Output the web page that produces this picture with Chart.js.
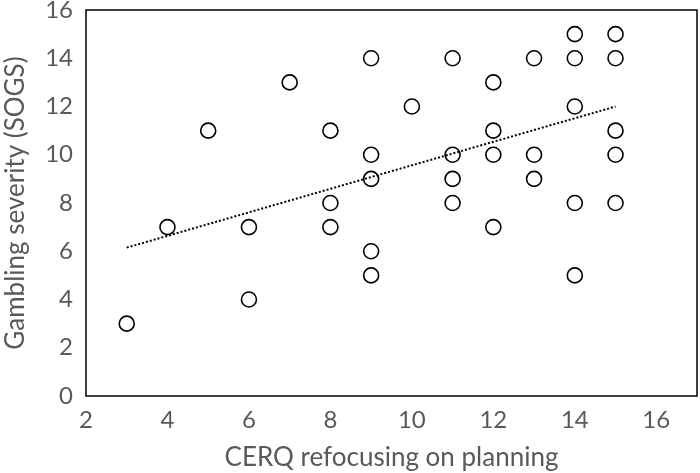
<!DOCTYPE html>
<html>
<head>
<meta charset="utf-8">
<script src="https://cdn.jsdelivr.net/npm/chart.js@4/dist/chart.umd.min.js"></script>
<style>
  html, body { margin: 0; padding: 0; background: #fff; overflow: hidden; }
  #wrap { width: 700px; height: 473px; }
  canvas { display: block; }
</style>
</head>
<body>
<div id="wrap"><canvas id="graficoSogs"></canvas></div>
<script>
// dados
const cerqX = [3, 4, 5, 6, 6, 7, 8, 8, 8, 9, 9, 9, 9, 9, 10, 11, 11, 11, 11, 12, 12, 12, 12, 13, 13, 13, 14, 14, 14, 14, 14, 15, 15, 15, 15, 15];
const sogsY = [3, 7, 11, 7, 4, 13, 11, 8, 7, 14, 10, 9, 6, 5, 12, 14, 10, 9, 8, 13, 11, 10, 7, 14, 10, 9, 15, 14, 12, 8, 5, 15, 14, 11, 10, 8];
const tendenciaX = [3, 15];
const tendenciaY = [6.15, 12.0];

const corTexto = '#595959';
const fonte = 'Lato, "Open Sans", sans-serif';

// moldura em volta da área do gráfico
const moldura = {
    id: 'moldura',
    afterDraw(chart) {
        const { ctx, chartArea } = chart;
        ctx.save();
        ctx.strokeStyle = '#000';
        ctx.lineWidth = 1.5;
        ctx.strokeRect(chartArea.left, chartArea.top, chartArea.right - chartArea.left, chartArea.bottom - chartArea.top);
        ctx.restore();
    }
};

const ctx = document.getElementById('graficoSogs').getContext('2d');
new Chart(ctx, {
    type: 'scatter',
    data: {
        datasets: [
            {
                label: 'SOGS',
                data: cerqX.map((x, i) => ({ x: x, y: sogsY[i] })),
                pointStyle: 'circle',
                pointRadius: 7.5,
                pointBorderWidth: 1.6,
                pointBorderColor: '#000',
                pointBackgroundColor: 'rgba(255,255,255,0)',
                order: 2
            },
            {
                type: 'line',
                label: 'Tendência',
                data: tendenciaX.map((x, i) => ({ x: x, y: tendenciaY[i] })),
                borderColor: '#000',
                borderWidth: 2,
                borderDash: [2, 2],
                pointRadius: 0,
                fill: false,
                order: 1
            }
        ]
    },
    options: {
        responsive: true,
        maintainAspectRatio: false,
        animation: false,
        layout: { autoPadding: false, padding: { left: 0, right: 3, top: 10, bottom: 0 } },
        plugins: {
            legend: { display: false },
            tooltip: { enabled: false }
        },
        scales: {
            x: {
                type: 'linear',
                min: 2,
                max: 17,
                grid: { display: false },
                border: { display: false },
                afterFit: (escala) => {
                    escala.height = 77;
                    escala.paddingLeft = 0;
                    escala.paddingRight = 0;
                },
                ticks: {
                    stepSize: 2,
                    includeBounds: false,
                    color: corTexto,
                    font: { family: fonte, size: 24 },
                    padding: 2
                },
                title: {
                    display: true,
                    text: 'CERQ refocusing on planning',
                    color: corTexto,
                    font: { family: fonte, size: 26 },
                    padding: { top: 4, bottom: 0 }
                }
            },
            y: {
                min: 0,
                max: 16,
                grid: { display: false },
                border: { display: false },
                afterFit: (escala) => {
                    escala.width = 86;
                    escala.paddingTop = 0;
                    escala.paddingBottom = 0;
                },
                ticks: {
                    stepSize: 2,
                    color: corTexto,
                    font: { family: fonte, size: 24 },
                    padding: 5
                },
                title: {
                    display: true,
                    text: 'Gambling severity (SOGS)',
                    color: corTexto,
                    font: { family: fonte, size: 26 },
                    padding: { top: 0, bottom: 4 }
                }
            }
        }
    },
    plugins: [moldura]
});
</script>
</body>
</html>
